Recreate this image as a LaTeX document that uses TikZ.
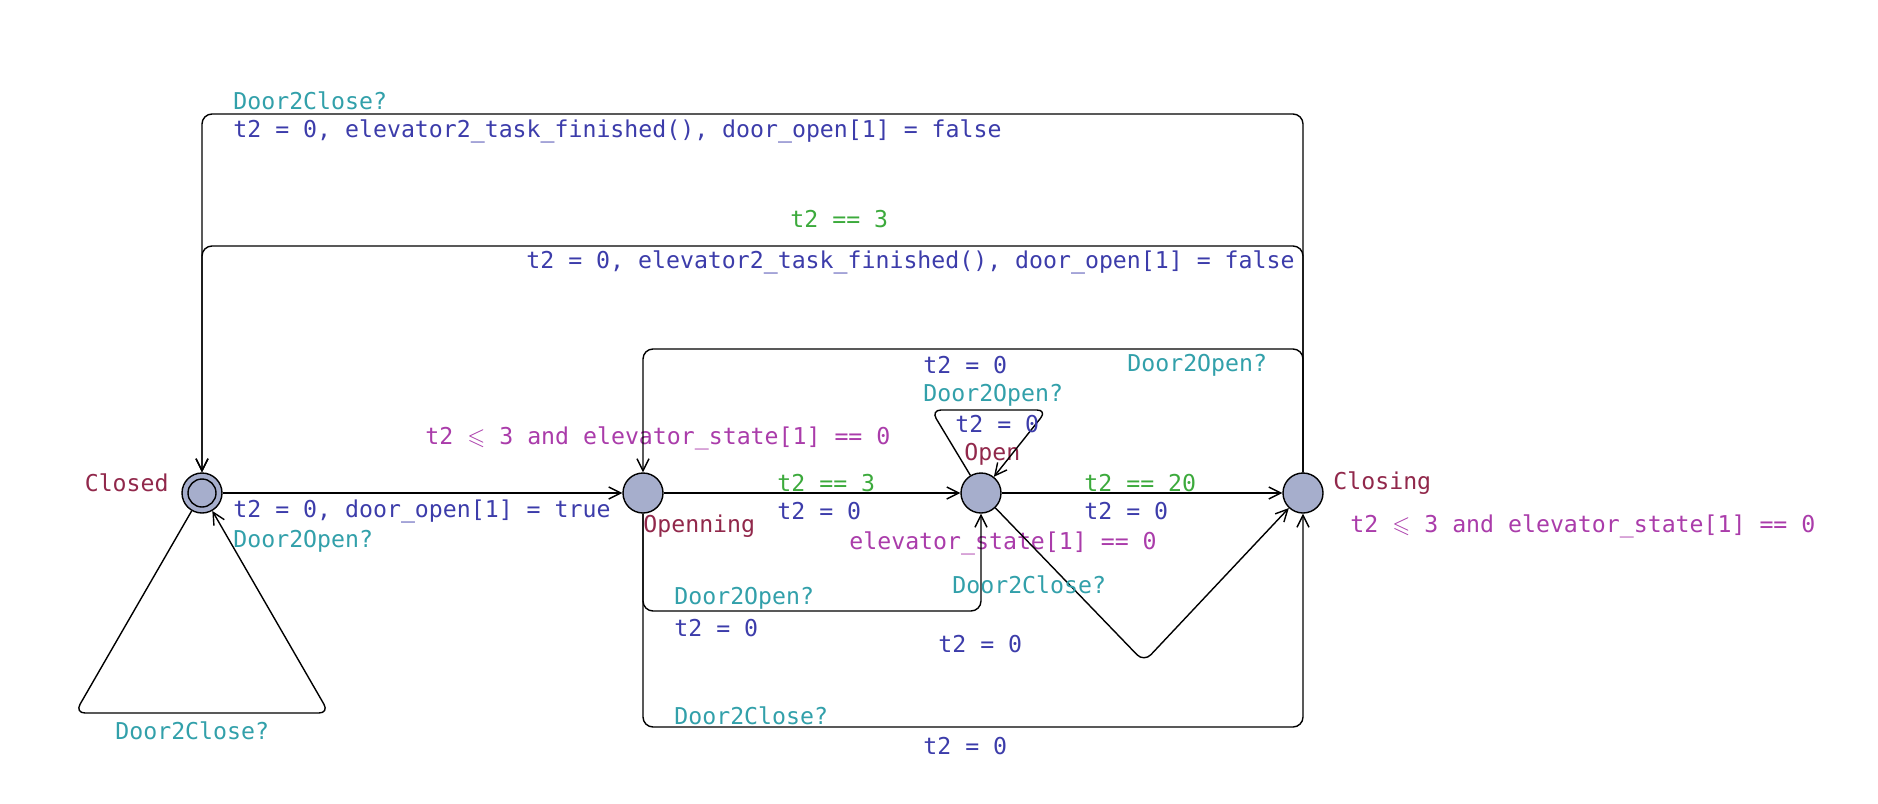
\documentclass[tikz,border=0pt]{standalone}
\usepackage{fontspec}
\usepackage{amssymb}
\usetikzlibrary{arrows.meta}
\newfontfamily\uppfont{DejaVu Sans Mono}
\definecolor{locfill}{RGB}{166,174,204}
\definecolor{namecol}{RGB}{145,40,75}
\definecolor{guardcol}{RGB}{60,170,60}
\definecolor{synccol}{RGB}{50,160,170}
\definecolor{updcol}{RGB}{60,60,170}
\definecolor{invcol}{RGB}{170,60,170}

\begin{document}
\begin{tikzpicture}[x=0.5pt, y=-0.5pt,
    font=\uppfont\fontsize{11.6}{13}\selectfont,
    location/.style={circle, draw, fill=locfill, line width=0.7pt, minimum size=20pt, inner sep=0pt},
    edge/.style={draw, line width=0.7pt, rounded corners=5pt, -{Straight Barb[length=6pt, width=6pt]}},
    lbl/.style={anchor=west, inner sep=0pt},
    locname/.style={lbl, color=namecol},
    guard/.style={lbl, color=guardcol},
    sync/.style={lbl, color=synccol},
    update/.style={lbl, color=updcol},
    invariant/.style={lbl, color=invcol}]
    \useasboundingbox (0,0) rectangle (1878,803);

    \node[location] (closed) at (202,493) {};
    \node[circle, draw, line width=0.7pt, minimum size=14pt, inner sep=0pt] (closedinner) at (closed.center) {};
    \node[location] (openning) at (643,493) {};
    \node[location] (open) at (981,493) {};
    \node[location] (closing) at (1303,493) {};

    \node[locname, anchor=east] (closedname) at (169,483) {Closed};
    \node[locname] (openningname) at (643,526) {Openning};
    \node[locname] (openname) at (964,454) {Open};
    \node[locname] (closingname) at (1333,483) {Closing};

    \node[invariant] (openninginv) at (425,438) {t2 $\leqslant$ 3 and elevator\_state[1] == 0};
    \node[invariant] (openinv) at (849,543) {elevator\_state[1] == 0};
    \node[invariant] (closinginv) at (1350,526) {t2 $\leqslant$ 3 and elevator\_state[1] == 0};

    \draw[edge] (closed) -- (openning);
    \node[update] (u1) at (233,511) {t2 = 0, door\_open[1] = true};
    \node[sync] (s1) at (233,541) {Door2Open?};

    \draw[edge] (closed) -- (75,713) -- (329,713) -- (closed);
    \node[sync] (s2) at (115,731) {Door2Close?};

    \draw[edge] (openning) -- (open);
    \node[guard] (g3) at (777,483) {t2 == 3};
    \node[update] (u3) at (777,511) {t2 = 0};

    \draw[edge] (open) -- (closing);
    \node[guard] (g4) at (1084,483) {t2 == 20};
    \node[update] (u4) at (1084,511) {t2 = 0};

    \draw[edge] (closing.north) -- (closing |- 0,114) -- (closed |- 0,114) -- (closed.north);
    \node[sync] (s5) at (233,101) {Door2Close?};
    \node[update] (u5) at (233,131) {t2 = 0, elevator2\_task\_finished(), door\_open[1] = false};

    \draw[edge] (closing.north) -- (closing |- 0,246) -- (closed |- 0,246) -- (closed.north);
    \node[guard] (g6) at (790,219) {t2 == 3};
    \node[update] (u6) at (526,262) {t2 = 0, elevator2\_task\_finished(), door\_open[1] = false};

    \draw[edge] (closing.north) -- (closing |- 0,349) -- (openning |- 0,349) -- (openning.north);
    \node[update] (u7) at (923,365) {t2 = 0};
    \node[sync] (s7) at (1127,365) {Door2Open?};

    \draw[edge] (open) -- (931,410) -- (1047,410) -- (open);
    \node[sync] (s8) at (923,395) {Door2Open?};
    \node[update] (u8) at (955,424) {t2 = 0};

    \draw[edge] (openning.south) -- (openning |- 0,611) -- (open |- 0,611) -- (open.south);
    \node[sync] (s9) at (674,598) {Door2Open?};
    \node[update] (u9) at (674,628) {t2 = 0};

    \draw[edge] (open) -- (1144,662) -- (closing);
    \node[sync] (s10) at (952,585) {Door2Close?};
    \node[update] (u10) at (938,644) {t2 = 0};

    \draw[edge] (openning.south) -- (openning |- 0,727) -- (closing |- 0,727) -- (closing.south);
    \node[sync] (s11) at (674,716) {Door2Close?};
    \node[update] (u11) at (923,746) {t2 = 0};
\end{tikzpicture}
\end{document}
